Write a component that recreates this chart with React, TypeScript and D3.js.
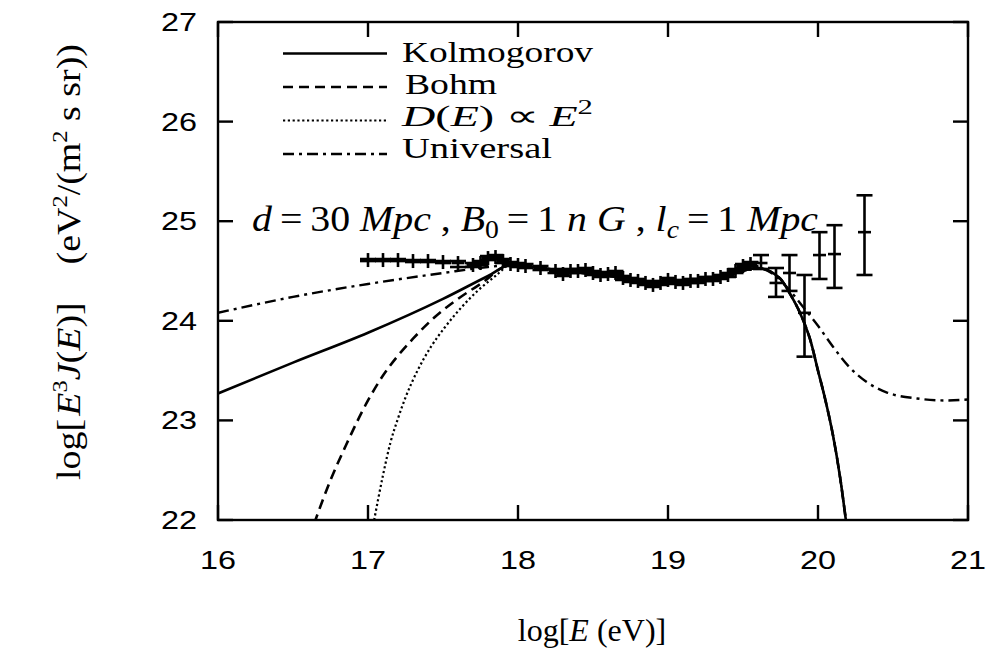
import React from 'react';
import * as d3 from 'd3';

const W = 998;
const H = 653;

const xTicks = [16, 17, 18, 19, 20, 21];
const yTicks = [22, 23, 24, 25, 26, 27];

// observed data: log E, log E^3 J, lower, upper
const obsX = [17.0, 17.1, 17.2, 17.3, 17.4, 17.5, 17.6, 17.7, 17.75, 17.8, 17.85, 17.9, 17.95, 18.0, 18.05, 18.15, 18.25, 18.3, 18.35, 18.4, 18.45, 18.5, 18.55, 18.6, 18.65, 18.7, 18.75, 18.8, 18.85, 18.9, 18.95, 19.0, 19.05, 19.1, 19.15, 19.2, 19.25, 19.3, 19.35, 19.4, 19.45, 19.5, 19.55, 19.62, 19.72, 19.81, 19.91, 20.01, 20.11, 20.31];
const obsY = [24.61, 24.61, 24.61, 24.6, 24.6, 24.59, 24.58, 24.56, 24.58, 24.63, 24.64, 24.6, 24.57, 24.56, 24.55, 24.53, 24.5, 24.47, 24.5, 24.5, 24.51, 24.48, 24.46, 24.47, 24.48, 24.43, 24.41, 24.4, 24.38, 24.36, 24.38, 24.41, 24.39, 24.38, 24.4, 24.4, 24.42, 24.42, 24.44, 24.46, 24.5, 24.55, 24.57, 24.58, 24.38, 24.48, 24.08, 24.66, 24.67, 24.89];
const obsLo = [24.6, 24.6, 24.6, 24.59, 24.59, 24.58, 24.54, 24.54, 24.56, 24.61, 24.62, 24.58, 24.55, 24.54, 24.53, 24.51, 24.48, 24.45, 24.48, 24.48, 24.49, 24.46, 24.44, 24.45, 24.46, 24.41, 24.39, 24.38, 24.36, 24.34, 24.36, 24.39, 24.37, 24.36, 24.38, 24.38, 24.4, 24.4, 24.42, 24.44, 24.48, 24.53, 24.55, 24.52, 24.24, 24.3, 23.64, 24.42, 24.33, 24.46];
const obsHi = [24.62, 24.62, 24.62, 24.61, 24.61, 24.6, 24.6, 24.58, 24.6, 24.65, 24.66, 24.62, 24.59, 24.58, 24.57, 24.55, 24.52, 24.49, 24.52, 24.52, 24.53, 24.5, 24.48, 24.49, 24.5, 24.45, 24.43, 24.42, 24.4, 24.38, 24.4, 24.43, 24.41, 24.4, 24.42, 24.42, 24.44, 24.44, 24.46, 24.48, 24.52, 24.57, 24.59, 24.66, 24.53, 24.66, 24.46, 24.89, 24.96, 25.26];

// model curves
const kolmX = [16.0, 16.5, 17.0, 17.5, 17.8, 17.95, 18.1, 18.3, 18.5, 18.7, 18.9, 19.1, 19.3, 19.45, 19.6, 19.7, 19.75, 19.81, 19.88, 19.95, 20.0, 20.05, 20.1, 20.15, 20.19];
const kolmY = [23.27, 23.58, 23.88, 24.22, 24.45, 24.56, 24.54, 24.5, 24.47, 24.43, 24.38, 24.38, 24.42, 24.48, 24.53, 24.48, 24.42, 24.28, 24.08, 23.8, 23.5, 23.2, 22.85, 22.4, 21.95];

const bohmX = [16.64, 16.75, 16.85, 17.0, 17.1, 17.2, 17.3, 17.44, 17.6, 17.75, 17.95, 18.1, 18.3, 18.5, 18.7, 18.9, 19.1, 19.3, 19.45, 19.6, 19.7, 19.75, 19.81, 19.88, 19.95, 20.0, 20.05, 20.1, 20.15, 20.19];
const bohmY = [21.96, 22.4, 22.74, 23.2, 23.45, 23.65, 23.82, 24.03, 24.22, 24.37, 24.56, 24.54, 24.5, 24.47, 24.43, 24.38, 24.38, 24.42, 24.48, 24.53, 24.48, 24.42, 24.28, 24.08, 23.8, 23.5, 23.2, 22.85, 22.4, 21.95];

const d2X = [17.035, 17.1, 17.15, 17.2, 17.25, 17.33, 17.42, 17.51, 17.62, 17.73, 17.85, 17.95, 18.1, 18.3, 18.5, 18.7, 18.9, 19.1, 19.3, 19.45, 19.6, 19.7, 19.75, 19.81, 19.88, 19.95, 20.0, 20.05, 20.1, 20.15, 20.19];
const d2Y = [21.95, 22.45, 22.78, 23.02, 23.23, 23.5, 23.74, 23.93, 24.13, 24.3, 24.45, 24.56, 24.54, 24.5, 24.47, 24.43, 24.38, 24.38, 24.42, 24.48, 24.53, 24.48, 24.42, 24.28, 24.08, 23.8, 23.5, 23.2, 22.85, 22.4, 21.95];

const univX = [16.0, 16.5, 17.0, 17.5, 17.8, 17.95, 18.1, 18.3, 18.5, 18.7, 18.9, 19.1, 19.3, 19.45, 19.6, 19.7, 19.81, 19.9, 20.0, 20.1, 20.2, 20.32, 20.46, 20.66, 20.85, 21.0];
const univY = [24.08, 24.24, 24.37, 24.48, 24.54, 24.56, 24.54, 24.5, 24.47, 24.43, 24.38, 24.38, 24.42, 24.48, 24.53, 24.47, 24.31, 24.14, 23.95, 23.74, 23.55, 23.39, 23.28, 23.22, 23.2, 23.21];

const legendLabels = ['Kolmogorov', 'Bohm', 'D(E) \u221D E2', 'Universal'];

const SERIF = "'Liberation Serif', 'Times New Roman', serif";
const SANS = "'Liberation Sans', Arial, sans-serif";

export default function App() {
  const x = d3.scaleLinear().domain([16, 21]).range([218, 968]);
  const y = d3.scaleLinear().domain([22, 27]).range([520, 22]);
  const line = d3
    .line<[number, number]>()
    .x((d) => x(d[0]))
    .y((d) => y(d[1]))
    .curve(d3.curveMonotoneX);
  const zip = (a: number[], b: number[]) => a.map((v, i) => [v, b[i]] as [number, number]);

  const curves = [
    { d: line(zip(kolmX, kolmY)), dash: 'none', w: 2.6 },
    { d: line(zip(bohmX, bohmY)), dash: '10,6', w: 2.6 },
    { d: line(zip(d2X, d2Y)), dash: '2.2,2.6', w: 2.2 },
    { d: line(zip(univX, univY)), dash: '11,5,3,5', w: 2.4 },
  ];

  const [x0, x1] = x.range();
  const [yb, yt] = y.range();
  const tl = 15;

  const legendY = [53.5, 87, 120.5, 154];
  const legendW = [191, 92, 191, 150];

  return (
    <svg width={W} height={H} style={{ position: 'absolute', left: 0, top: 0, background: '#fff' }}>
      <defs>
        <clipPath id="plotclip">
          <rect x={x0} y={yt} width={x1 - x0} height={yb - yt} />
        </clipPath>
      </defs>
      <rect x={0} y={0} width={W} height={H} fill="#fff" />

      {/* curves */}
      <g clipPath="url(#plotclip)" fill="none" stroke="#000">
        {curves.map((c, i) => (
          <path key={i} d={c.d || ''} strokeWidth={c.w} strokeDasharray={c.dash} />
        ))}
      </g>

      {/* data points */}
      <g stroke="#000" strokeWidth={2.6}>
        {obsX.map((v, i) => {
          const cx = x(v);
          const cy = y(obsY[i]);
          const lo = y(obsLo[i]);
          const hi = y(obsHi[i]);
          return (
            <g key={i}>
              <line x1={cx - 6.5} x2={cx + 6.5} y1={cy} y2={cy} />
              <line x1={cx} x2={cx} y1={Math.min(cy - 7, hi)} y2={Math.max(cy + 7, lo)} />
              <line x1={cx - 8} x2={cx + 8} y1={hi} y2={hi} />
              <line x1={cx - 8} x2={cx + 8} y1={lo} y2={lo} />
            </g>
          );
        })}
      </g>

      {/* frame and ticks */}
      <g stroke="#000" strokeWidth={2.4} fill="none">
        <rect x={x0} y={yt} width={x1 - x0} height={yb - yt} />
        {xTicks.map((t) => (
          <g key={'x' + t}>
            <line x1={x(t)} x2={x(t)} y1={yb} y2={yb - tl} />
            <line x1={x(t)} x2={x(t)} y1={yt} y2={yt + tl} />
          </g>
        ))}
        {yTicks.map((t) => (
          <g key={'y' + t}>
            <line x1={x0} x2={x0 + tl} y1={y(t)} y2={y(t)} />
            <line x1={x1} x2={x1 - tl} y1={y(t)} y2={y(t)} />
          </g>
        ))}
      </g>

      {/* tick labels */}
      {xTicks.map((t) => (
        <text key={'xl' + t} x={x(t)} y={569} textAnchor="middle" fontFamily={SANS} fontSize={26} fill="#000" textLength={36} lengthAdjust="spacingAndGlyphs">
          {t}
        </text>
      ))}
      {yTicks.map((t) => (
        <text key={'yl' + t} x={197} y={y(t) + 9} textAnchor="end" fontFamily={SANS} fontSize={26} fill="#000" textLength={36} lengthAdjust="spacingAndGlyphs">
          {t}
        </text>
      ))}

      {/* legend */}
      {curves.map((c, i) => (
        <line key={'ls' + i} x1={283} x2={387} y1={legendY[i]} y2={legendY[i]} stroke="#000" strokeWidth={c.w} strokeDasharray={c.dash} />
      ))}
      <text x={402} y={legendY[0] + 8.5} fontFamily={SERIF} fontSize={30} fill="#000" textLength={legendW[0]} lengthAdjust="spacingAndGlyphs">{legendLabels[0]}</text>
      <text x={405} y={legendY[1] + 7} fontFamily={SERIF} fontSize={30} fill="#000" textLength={legendW[1]} lengthAdjust="spacingAndGlyphs">{legendLabels[1]}</text>
      <text x={402} y={legendY[2] + 5} fontFamily={SERIF} fontSize={30} fill="#000" textLength={legendW[2]} lengthAdjust="spacingAndGlyphs">
        <tspan fontStyle="italic">D</tspan>
        <tspan>(</tspan>
        <tspan fontStyle="italic">E</tspan>
        <tspan>{') '}</tspan>
        <tspan>{'\u221D '}</tspan>
        <tspan fontStyle="italic">E</tspan>
        <tspan fontSize={20} dy={-12}>2</tspan>
      </text>
      <text x={402} y={legendY[3] + 4} fontFamily={SERIF} fontSize={30} fill="#000" textLength={legendW[3]} lengthAdjust="spacingAndGlyphs">{legendLabels[3]}</text>

      {/* annotation */}
      <text x={252} y={231} fontFamily={SERIF} fontSize={36} fill="#000" textLength={566} lengthAdjust="spacingAndGlyphs">
        <tspan fontStyle="italic">d</tspan>
        <tspan>{'\u2009=\u200930 '}</tspan>
        <tspan fontStyle="italic">Mpc</tspan>
        <tspan>{' , '}</tspan>
        <tspan fontStyle="italic">B</tspan>
        <tspan fontSize={25} dy={7}>0</tspan>
        <tspan dy={-7}>{'\u2009=\u20091 '}</tspan>
        <tspan fontStyle="italic">{'n G'}</tspan>
        <tspan>{' , '}</tspan>
        <tspan fontStyle="italic">l</tspan>
        <tspan fontStyle="italic" fontSize={25} dy={7}>c</tspan>
        <tspan dy={-7}>{'\u2009=\u20091 '}</tspan>
        <tspan fontStyle="italic">Mpc</tspan>
      </text>

      {/* x axis label */}
      <text x={592} y={641} textAnchor="middle" fontFamily={SERIF} fontSize={32} fill="#000">
        log[<tspan fontStyle="italic">E</tspan> (eV)]
      </text>

      {/* y axis label */}
      <text transform="translate(80,262) rotate(-90)" textAnchor="middle" fontFamily={SERIF} fontSize={34} fill="#000" textLength={436} lengthAdjust="spacingAndGlyphs">
        <tspan>{'log[\u200A'}</tspan>
        <tspan fontStyle="italic">E</tspan>
        <tspan fontSize={22} dy={-13}>3</tspan>
        <tspan fontStyle="italic" dy={13}>J</tspan>
        <tspan>(</tspan>
        <tspan fontStyle="italic">E</tspan>
        <tspan>{')]\u2003(eV'}</tspan>
        <tspan fontSize={22} dy={-13}>2</tspan>
        <tspan dy={13}>/(m</tspan>
        <tspan fontSize={22} dy={-13}>2</tspan>
        <tspan dy={13}>{' s sr))'}</tspan>
      </text>
    </svg>
  );
}
